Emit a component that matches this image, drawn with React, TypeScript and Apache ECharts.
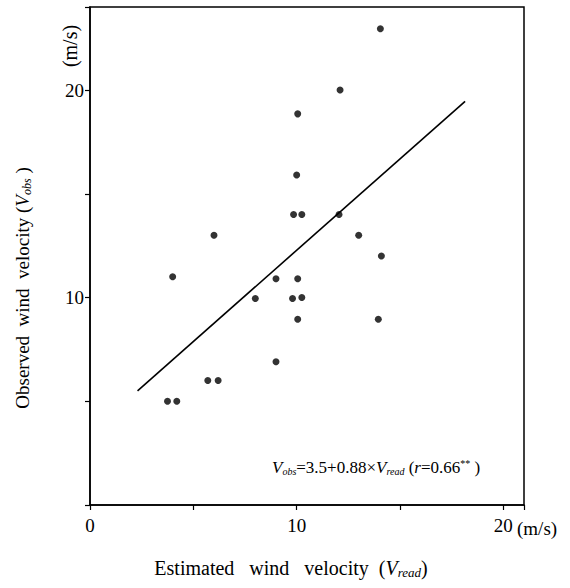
import React, { useEffect, useRef } from "react";
import * as echarts from "echarts";

// Estimated (V_read) and observed (V_obs) wind velocities, m/s
const vRead = [14.05, 12.1, 10.05, 10, 9.85, 10.25, 12.05, 6, 13, 14.1, 4, 9, 10.05, 8, 9.8, 10.25, 10.05, 13.95, 9, 5.7, 6.2, 3.75, 4.2];
const vObs = [22.95, 20, 18.85, 15.9, 14, 14, 14, 13, 13, 12, 11, 10.9, 10.9, 9.95, 9.95, 10, 8.95, 8.95, 6.9, 6, 6, 5, 5];
// Regression line end points
const lineX = [2.3, 18.15];
const lineY = [5.5, 19.45];
const xTickLabels = [0, 10, 20];
const yTickLabels = [10, 20];

const FONT = "Liberation Serif, serif";

export default function App() {
  const ref = useRef<HTMLDivElement>(null);
  useEffect(() => {
    if (!ref.current) return;
    const chart = echarts.init(ref.current, undefined, { renderer: "svg" });
    const pts = vRead.map((x, i) => [x, vObs[i]]);
    const line = lineX.map((x, i) => [x, lineY[i]]);
    const mk = (size: number, sub: number) => ({
      n: { fontFamily: FONT, fontSize: size, color: "#000", lineHeight: 24 },
      v: { fontFamily: FONT, fontSize: size, fontStyle: "italic", color: "#000", lineHeight: 24 },
      s: { fontFamily: FONT, fontSize: sub, fontStyle: "italic", color: "#000", lineHeight: 24, padding: [9, 0, 0, 0] },
      sup: { fontFamily: FONT, fontSize: sub, color: "#000", lineHeight: 24, padding: [0, 0, 8, 0] },
    });
    chart.setOption({
      animation: false,
      grid: { left: 90, top: 7, width: 434, height: 498, show: true, borderColor: "#000", borderWidth: 1.5, backgroundColor: "transparent" },
      xAxis: {
        type: "value", min: 0, max: 21, interval: 5,
        axisLine: { show: true, lineStyle: { color: "#000", width: 1.5 } },
        axisTick: { show: true, inside: false, length: 5, lineStyle: { color: "#000", width: 1.2 } },
        splitLine: { show: false },
        axisLabel: {
          margin: 11, fontFamily: FONT, fontSize: 19, color: "#000",
          formatter: (v: number) => (xTickLabels.includes(v) ? String(v) : ""),
        },
      },
      yAxis: {
        type: "value", min: 0, max: 24, interval: 5,
        axisLine: { show: true, lineStyle: { color: "#000", width: 1.5 } },
        axisTick: { show: true, inside: false, length: 5, lineStyle: { color: "#000", width: 1.2 } },
        splitLine: { show: false },
        axisLabel: {
          margin: 6, fontFamily: FONT, fontSize: 19, color: "#000",
          formatter: (v: number) => (yTickLabels.includes(v) ? String(v) : ""),
        },
      },
      series: [
        {
          type: "scatter", data: pts, symbol: "circle", symbolSize: 7,
          itemStyle: { color: "#000" }, silent: true,
        },
        {
          type: "line", data: line, symbol: "none",
          lineStyle: { color: "#000", width: 1.6 }, silent: true,
        },
      ],
      graphic: [
        {
          type: "text", left: 517, top: 519,
          style: { text: "(m/s)", fontFamily: FONT, fontSize: 19, fill: "#000" },
        },
        {
          type: "text", x: 70, y: 46, rotation: Math.PI / 2,
          style: { text: "(m/s)", fontFamily: FONT, fontSize: 20, fill: "#000", align: "center", verticalAlign: "middle" },
        },
        {
          type: "text", x: 291, y: 568,
          style: {
            text: "{n|Estimated   wind   velocity  (}{v|V}{s|read}{n|)}",
            rich: mk(20, 13), align: "center", verticalAlign: "middle",
          },
        },
        {
          type: "text", x: 22, y: 288, rotation: Math.PI / 2,
          style: {
            text: "{n|Observed  wind  velocity (}{v|V}{s|obs}{n| )}",
            rich: mk(19, 12), align: "center", verticalAlign: "middle",
          },
        },
        {
          type: "text", x: 272, y: 467,
          style: {
            text: "{v|V}{s|obs}{n|=3.5+0.88×}{v|V}{s|read}{n| (}{v|r}{n|=0.66}{sup|**}{n| )}",
            rich: mk(17, 10), align: "left", verticalAlign: "middle",
          },
        },
      ],
    });
    return () => chart.dispose();
  }, []);
  return <div ref={ref} style={{ position: "absolute", left: 0, top: 0, width: 570, height: 588 }} />;
}
